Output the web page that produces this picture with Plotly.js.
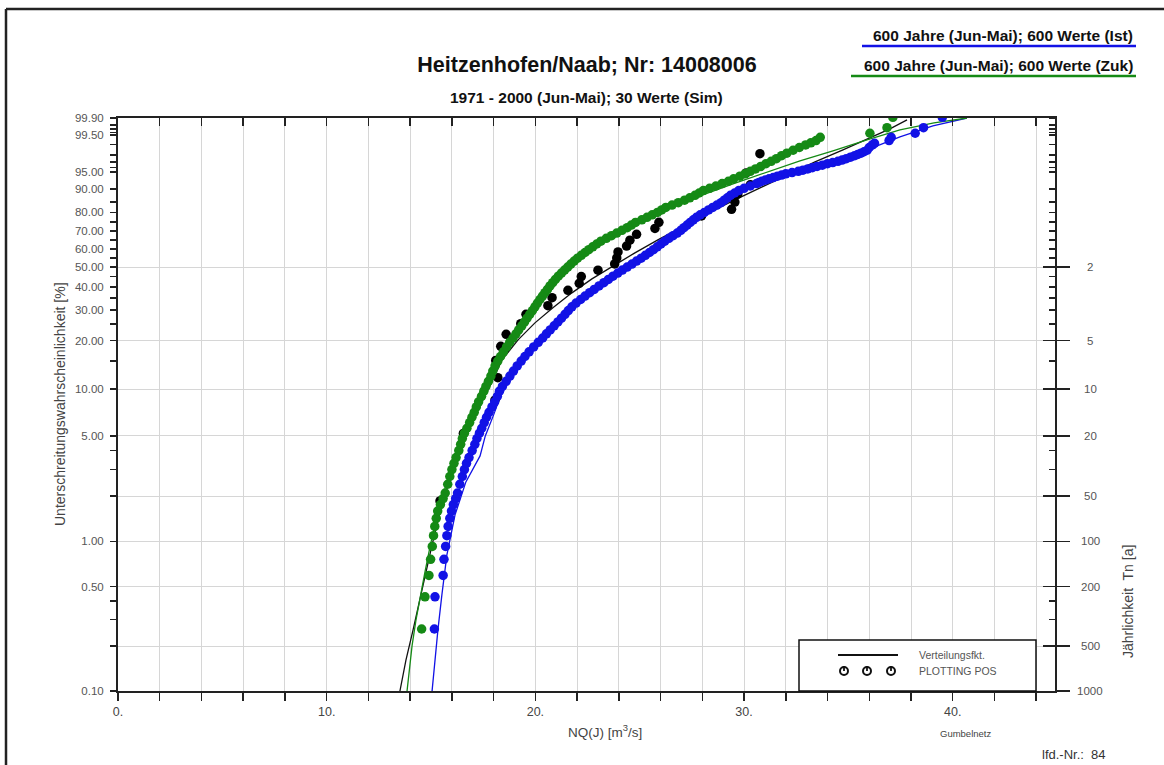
<!DOCTYPE html>
<html><head><meta charset="utf-8">
<script src="https://cdn.plot.ly/plotly-3.0.1.min.js"></script>
<style>html,body{margin:0;padding:0;background:#fff}#chart{width:1164px;height:765px}</style>
</head><body><div id="chart"></div>
<script>
// ---------- data (x = NQ in m3/s, P = non-exceedance probability in %) ----------
const blackDotsX = [15.43,16.55,18.06,18.20,18.10,18.34,18.60,19.30,19.55,20.60,20.80,21.56,22.10,22.20,23.00,23.80,23.90,23.96,24.37,24.53,24.85,25.73,25.92,27.96,29.40,29.56,29.70,30.30,30.10,30.76];
const blackDotsP = [1.86,5.18,8.50,11.82,15.14,18.46,21.78,25.10,28.42,31.74,35.06,38.38,41.70,45.02,48.34,51.66,54.98,58.30,61.62,64.94,68.26,71.58,74.90,78.22,81.54,84.86,88.18,91.50,94.82,98.14];

const blueDotsP = [0.093,0.260,0.427,0.593,0.760,0.927,1.093,1.260,1.426,1.593,
  1.76,1.93,2.1,2.4,2.7,3.0,3.3,3.6,4.0,4.4,
  4.8,5.2,5.6,6.1,6.6,7.1,7.7,8.3,9.0,9.7,
  10.4,11.2,12.1,13.0,14.0,15.0,16.0,17.1,18.3,19.5,
  20.7,21.9,23.1,24.4,25.7,27.0,28.4,29.8,31.3,32.8,
  34.3,35.8,37.3,38.8,40.4,42.0,43.6,45.2,46.8,48.4,
  50.0,51.6,53.2,54.8,56.4,58.0,59.6,61.2,62.8,64.4,
  66.0,67.5,69.0,70.5,72.0,73.4,74.8,76.2,77.5,78.8,
  80.0,81.2,82.4,83.5,84.6,85.7,86.7,87.7,88.6,89.5,
  90.3,91.1,91.9,92.25,92.6,92.95,93.3,93.65,94.0,94.3,94.6,94.9,95.2,95.45,95.7,95.95,96.2,96.45,96.7,96.9,
  97.1,97.3,97.5,97.7,97.9,98.05,98.2,98.35,98.5,98.75,98.95,99.07,99.24,
  99.407,99.574,99.74,99.907];
const blueDotsX = [15.09,15.16,15.19,15.58,15.62,15.70,15.76,15.82,15.90,15.98,
  16.07,16.18,16.27,16.38,16.50,16.60,16.70,16.82,16.97,17.10,
  17.20,17.32,17.43,17.55,17.66,17.78,17.92,18.05,18.18,18.28,
  18.42,18.60,18.78,18.95,19.13,19.32,19.50,19.70,19.92,20.14,
  20.35,20.53,20.71,20.90,21.08,21.25,21.42,21.58,21.75,21.95,
  22.17,22.38,22.60,22.82,23.05,23.28,23.50,23.72,23.95,24.17,
  24.40,24.63,24.85,25.07,25.27,25.47,25.66,25.84,26.02,26.20,
  26.40,26.60,26.80,26.97,27.12,27.27,27.42,27.57,27.72,27.90,
  28.10,28.30,28.50,28.70,28.90,29.05,29.20,29.35,29.55,29.75,
  30.00,30.30,30.60,30.72,30.85,31.02,31.20,31.40,31.60,31.80,32.00,32.30,32.60,32.82,33.05,33.27,33.50,33.75,34.00,34.25,
  34.50,34.70,34.90,35.10,35.30,35.45,35.60,35.75,35.90,36.00,36.15,36.25,36.95,
  37.05,38.20,38.60,39.50];

const greenDotsP = [0.093,0.260,0.427,0.593,0.760,0.927,1.093,1.260,1.426,1.593,
  1.76,1.93,2.1,2.4,2.7,3.0,3.3,3.6,4.0,4.4,
  4.8,5.2,5.6,6.1,6.6,7.1,7.7,8.3,9.0,9.7,
  10.4,11.2,12.1,13.0,14.0,15.0,16.0,17.1,18.3,19.5,
  20.7,21.9,23.1,24.4,25.7,27.0,28.4,29.8,31.3,32.8,
  34.3,35.8,37.3,38.8,40.4,42.0,43.6,45.2,46.8,48.4,
  50.0,51.6,53.2,54.8,56.4,58.0,59.6,61.2,62.8,64.4,
  66.0,67.5,69.0,70.5,72.0,73.4,74.8,76.2,77.5,78.8,
  80.0,81.2,82.4,83.5,84.6,85.7,86.7,87.7,88.6,89.5,
  90.3,91.1,91.9,92.6,93.3,94.0,94.6,95.2,95.7,96.2,
  96.7,97.1,97.5,97.9,98.2,98.5,98.75,98.95,99.1,99.24,
  99.407,99.574,99.74,99.907];
const greenDotsX = [14.10,14.55,14.71,14.90,14.98,15.06,15.12,15.18,15.25,15.32,
  15.45,15.58,15.68,15.80,15.90,16.00,16.10,16.20,16.33,16.42,
  16.50,16.60,16.72,16.85,16.96,17.07,17.17,17.28,17.42,17.53,
  17.63,17.75,17.87,17.96,18.07,18.20,18.33,18.47,18.62,18.77,
  18.93,19.07,19.20,19.35,19.48,19.60,19.73,19.86,19.98,20.10,
  20.22,20.34,20.46,20.58,20.70,20.83,20.96,21.10,21.25,21.40,
  21.55,21.70,21.86,22.02,22.20,22.38,22.56,22.75,22.94,23.14,
  23.40,23.65,23.90,24.15,24.40,24.60,24.80,25.10,25.35,25.60,
  25.85,26.05,26.25,26.55,26.85,27.15,27.40,27.65,27.85,28.05,
  28.35,28.65,28.95,29.25,29.50,29.80,30.05,30.30,30.55,30.80,
  31.05,31.30,31.55,31.80,32.05,32.35,32.65,32.95,33.20,33.45,
  33.65,36.03,36.85,37.13];

// fitted distribution functions (Verteilungsfkt.)
const blackFitX = [13.51,13.80,14.14,14.57,15.05,15.52,16.00,16.53,17.11,17.73,18.40,19.17,19.98,20.84,21.75,22.71,23.72,24.77,25.87,27.02,28.22,29.46,30.76,32.05,33.40,34.74,36.13,36.99,37.81];
const blackFitP = [0.1,0.1615,0.2564,0.4752,0.9476,1.750,2.896,4.493,6.838,9.890,15.25,20.17,25.39,30.87,37.21,43.87,50.63,57.80,65.16,72.43,79.30,85.41,90.49,94.36,97.02,98.54,99.43,99.71,99.879];
const blueFitX = [15.05,15.19,15.33,15.52,15.76,16.15,16.67,17.35,17.60,18.00,18.35,18.95,19.62,20.48,21.25,21.90,22.80,23.75,24.85,25.90,27.00,27.90,29.15,30.45,32.20,34.20,35.89,37.47,39.05,40.68];
const blueFitP = [0.1,0.1615,0.2564,0.4396,0.8131,1.502,2.487,3.692,4.992,6.838,9.192,12.48,16.37,21.02,26.42,31.67,38.11,44.88,52.80,61.19,70.22,78.28,85.84,91.16,94.60,97.02,98.54,99.43,99.78,99.9];
const greenFitX = [13.85,13.99,14.09,14.28,14.47,14.71,14.95,15.24,15.57,15.96,16.39,16.87,17.25,17.59,17.97,18.35,18.83,19.36,19.88,20.70,21.51,23.10,24.68,26.31,27.89,29.47,31.10,32.68,34.26,35.89,37.47,39.10,40.68];
const greenFitP = [0.1,0.1495,0.2004,0.2989,0.4256,0.6258,0.9189,1.391,2.040,2.985,4.229,5.886,7.931,10.03,13.22,16.37,19.90,24.72,30.09,39.04,48.50,62.89,72.98,81.75,87.49,91.81,95.08,97.18,98.44,99.28,99.68,99.836,99.9];

// axis ticks
const leftTickP = [0.1,0.2,0.3,0.4,0.5,1,2,3,4,5,10,15,20,25,30,35,40,45,50,55,60,65,70,75,80,85,90,95,96,97,98,99,99.5,99.6,99.7,99.8,99.9];
const leftLabelP = [0.1,0.5,1,5,10,20,30,40,50,60,70,80,90,95,99.5,99.9];
const returnPeriods = [2,5,10,20,50,100,200,500,1000];
const xTickVals = [0,2,4,6,8,10,12,14,16,18,20,22,24,26,28,30,32,34,36,38,40,42,44];
const xLabelVals = [0,10,20,30,40];

// ---------- Gumbel (minimum) probability scale ----------
const gum = p => Math.log(-Math.log(1 - p / 100));
const yLo = gum(0.1), yHi = gum(99.9);
const xRange = [0, 44.9];

const L = 118, R = 1055, T = 118, B = 691;
const fx = px => (px - L) / (R - L);
const fy = py => (B - py) / (B - T);

const BLUE = '#1212e6', GREEN = '#158a15', BLACK = '#000000';
const FONT = 'Liberation Sans, Arial, sans-serif';

const line = (xs, ps, c) => ({x: xs, y: ps.map(gum), mode: 'lines', type: 'scatter',
  line: {color: c, width: 1.3}, hoverinfo: 'skip'});
const dots = (xs, ps, c) => ({x: xs, y: ps.map(gum), mode: 'markers', type: 'scatter',
  marker: {color: c, size: 9.5, line: {width: 0}}, hoverinfo: 'skip'});
const anchor = (xa, ya) => ({x: [0], y: [yLo], xaxis: xa, yaxis: ya, mode: 'markers',
  marker: {opacity: 0, size: 1}, hoverinfo: 'skip', showlegend: false});

const traces = [
  line(blackFitX, blackFitP, '#111111'),
  line(blueFitX, blueFitP, BLUE),
  line(greenFitX, greenFitP, GREEN),
  dots(blackDotsX, blackDotsP, BLACK),
  dots(blueDotsX, blueDotsP, BLUE),
  dots(greenDotsX, greenDotsP, GREEN),
  anchor('x2', 'y'), anchor('x', 'y2'), anchor('x', 'y3')
];

const majorY = returnPeriods.map(t => gum(100 / t));
const minorRightP = leftTickP.filter(p => !returnPeriods.some(t => Math.abs(100 / t - p) < 1e-9));

const tickCol = '#222';
const layout = {
  width: 1164, height: 765,
  margin: {l: L, r: 1164 - R, t: T, b: 765 - B, pad: 0},
  paper_bgcolor: '#ffffff', plot_bgcolor: '#ffffff',
  showlegend: false,
  font: {family: FONT, color: '#444'},
  title: {text: '<b>Heitzenhofen/Naab; Nr: 14008006</b>', x: 587 / 1164, xanchor: 'center',
    y: 1 - 64 / 765, yanchor: 'middle', font: {size: 21.5, color: '#111', family: FONT}},
  xaxis: {range: xRange, tickmode: 'array', tickvals: xTickVals,
    ticktext: xTickVals.map(v => xLabelVals.includes(v) ? v + '.' : ''),
    ticks: 'outside', ticklen: 8, tickwidth: 1.5, tickcolor: tickCol,
    showline: true, linewidth: 2, linecolor: tickCol, showgrid: true, gridcolor: '#d6d6d6', gridwidth: 1,
    zeroline: false, fixedrange: true, tickfont: {size: 12.5, color: '#444'}},
  xaxis2: {overlaying: 'x', side: 'top', range: xRange, tickmode: 'array', tickvals: xTickVals,
    ticks: 'inside', ticklen: 8, tickwidth: 1.5, tickcolor: tickCol, showticklabels: false,
    showline: true, linewidth: 2, linecolor: tickCol, showgrid: false, zeroline: false, fixedrange: true},
  yaxis: {range: [yLo, yHi], tickmode: 'array', tickvals: leftTickP.map(gum),
    ticktext: leftTickP.map(p => leftLabelP.includes(p) ? p.toFixed(2) : ''),
    ticks: 'outside', ticklen: 6, tickwidth: 1.5, tickcolor: tickCol,
    showline: true, linewidth: 2, linecolor: tickCol, showgrid: false, zeroline: false, fixedrange: true,
    tickfont: {size: 11.5, color: '#555'}, ticklabelstandoff: 4},
  yaxis2: {overlaying: 'y', side: 'right', range: [yLo, yHi], tickmode: 'array', tickvals: majorY,
    ticks: 'outside', ticklen: 13, tickwidth: 1.5, tickcolor: tickCol, showticklabels: false,
    showline: true, linewidth: 2, linecolor: tickCol, showgrid: true, gridcolor: '#d6d6d6', gridwidth: 1,
    zeroline: false, fixedrange: true,
    minor: {tickmode: 'array', tickvals: minorRightP.map(gum), ticks: 'inside', ticklen: 6,
      tickwidth: 1.5, tickcolor: tickCol, showgrid: false}},
  yaxis3: {overlaying: 'y', side: 'right', range: [yLo, yHi], tickmode: 'array', tickvals: majorY,
    ticks: 'inside', ticklen: 12, tickwidth: 1.5, tickcolor: tickCol, showticklabels: false,
    showline: false, showgrid: false, zeroline: false, fixedrange: true},
  shapes: [], annotations: []
};

const S = layout.shapes, A = layout.annotations;
const pline = (x0, y0, x1, y1, c, w) => S.push({type: 'line', xref: 'paper', yref: 'paper',
  x0: fx(x0), y0: fy(y0), x1: fx(x1), y1: fy(y1), line: {color: c, width: w}, layer: 'above'});
const ptext = (x, y, text, size, opts = {}) => A.push(Object.assign({xref: 'paper', yref: 'paper',
  x: fx(x), y: fy(y), text: text, showarrow: false, xanchor: 'center', yanchor: 'middle',
  font: {size: size, color: '#444', family: FONT}}, opts));

// outer frame
pline(6, 9, 1164, 9, '#222', 2.5);
pline(6, 9, 6, 770, '#222', 2.5);

// header texts
const hdr = {size: 15.5, color: '#111', family: FONT};
ptext(586, 98, '<b>1971 - 2000 (Jun-Mai); 30 Werte (Sim)</b>', 15.5, {font: hdr});
ptext(1135, 35, '<b>600 Jahre (Jun-Mai); 600 Werte (Ist)</b>', 15.5, {xanchor: 'right', font: hdr});
ptext(1135, 65, '<b>600 Jahre (Jun-Mai); 600 Werte (Zuk)</b>', 15.5, {xanchor: 'right', font: hdr});
pline(862, 46, 1136, 46, BLUE, 2.5);
pline(851, 76, 1136, 76, GREEN, 2.5);

// axis titles and footer texts
ptext(605, 731, 'NQ(J) [m<sup>3</sup>/s]', 13.5);
ptext(965, 733, 'Gumbelnetz', 9.5);
ptext(1074, 754, 'lfd.-Nr.:  84', 13, {font: {size: 13, color: '#333', family: FONT}});
ptext(60, 404, 'Unterschreitungswahrscheinlichkeit [%]', 14, {textangle: -90});
ptext(1128, 602, 'Jährlichkeit&nbsp; Tn [a]', 14, {textangle: -90});

// right axis labels (return periods)
returnPeriods.forEach(t => A.push({xref: 'paper', yref: 'y', x: fx(1090), y: gum(100 / t),
  text: String(t), showarrow: false, xanchor: 'center', yanchor: 'middle',
  font: {size: 11.5, color: '#555', family: FONT}}));

// legend box
S.push({type: 'rect', xref: 'paper', yref: 'paper', x0: fx(799), x1: fx(1036), y0: fy(691), y1: fy(640),
  line: {color: '#111', width: 1.5}, fillcolor: '#ffffff', layer: 'above'});
pline(838, 655, 898, 655, '#111', 2);
[844, 867, 891].forEach(c => {
  S.push({type: 'circle', xref: 'paper', yref: 'paper', x0: fx(c - 4), x1: fx(c + 4),
    y0: fy(675), y1: fy(667), line: {color: '#111', width: 2}, fillcolor: '#ffffff', layer: 'above'});
  pline(c, 666, c, 671, '#111', 1.8);
});
ptext(917, 655, 'Verteilungsfkt.', 10.5, {xanchor: 'left', font: {size: 10.5, color: '#555', family: FONT}});
ptext(917, 671, 'PLOTTING POS', 10.5, {xanchor: 'left', font: {size: 10.5, color: '#555', family: FONT}});

Plotly.newPlot('chart', traces, layout, {staticPlot: true, displayModeBar: false});
</script></body></html>
